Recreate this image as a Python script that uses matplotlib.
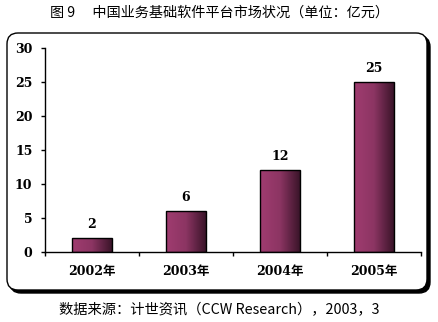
import numpy as np
import matplotlib.pyplot as plt
from matplotlib.patches import FancyBboxPatch
from matplotlib.colors import LinearSegmentedColormap

# 市场规模（亿元）
years = ['2002年', '2003年', '2004年', '2005年']
values = [2, 6, 12, 25]
yticks = [0, 5, 10, 15, 20, 25, 30]

title = '图 9\u3000 中国业务基础软件平台市场状况（单位：亿元）'
source = '数据来源：计世资讯（CCW Research），2003，3'

cjk = ['Noto Sans CJK SC', 'DejaVu Sans']
num = ['DejaVu Serif', 'Noto Sans CJK SC']

W, H = 439, 322
fig = plt.figure(figsize=(W / 100, H / 100), dpi=100)
fig.patch.set_facecolor('white')

# 圆角外框 + 阴影
def fx(px):
    return px / W

def fy(py):
    return 1 - py / H

shadow = FancyBboxPatch((fx(10), fy(293)), fx(420), 257 / H,
                        boxstyle='round,pad=0,rounding_size=0.025',
                        transform=fig.transFigure, facecolor='black',
                        edgecolor='black', lw=1, mutation_aspect=W / H, zorder=-2)
box = FancyBboxPatch((fx(7), fy(290)), fx(420), 257 / H,
                     boxstyle='round,pad=0,rounding_size=0.025',
                     transform=fig.transFigure, facecolor='white',
                     edgecolor='black', lw=1, mutation_aspect=W / H, zorder=-1)
fig.patches.extend([shadow, box])

ax = fig.add_axes([fx(45), fy(252), fx(421) - fx(45), (252 - 48) / H])
ax.set_facecolor('none')

x = np.arange(len(years))
bars = ax.bar(x, values, width=0.415, color='none', edgecolor='black', lw=1, zorder=3)

cmap = LinearSegmentedColormap.from_list('bar', ['#a03c70', '#8c3563', '#3a1429'])
grad = np.linspace(0, 1, 256).reshape(1, -1)
for b in bars:
    x0, w, h = b.get_x(), b.get_width(), b.get_height()
    im = ax.imshow(grad, cmap=cmap, extent=(x0, x0 + w, 0, h),
                   aspect='auto', origin='lower', zorder=2)
    im.set_clip_path(b)

for xi, v in zip(x, values):
    ax.annotate(str(v), (xi, v), xytext=(0, 5), textcoords='offset points',
                ha='center', va='bottom', fontsize=9, fontweight='bold', family=num)

ax.set_xlim(-0.5, len(years) - 0.5)
ax.set_ylim(0, 30)
ax.set_yticks(yticks)
ax.set_yticklabels([str(t) for t in yticks], fontsize=9, fontweight='bold', family=num)
ax.set_xticks(x)
ax.set_xticklabels(years, fontsize=9, fontweight='bold', family=num)
ax.tick_params(axis='x', length=0, pad=9)
ax.set_xticks(np.arange(-0.5, len(years)), minor=True)
ax.tick_params(axis='x', which='minor', length=3, direction='out', width=1)
ax.tick_params(axis='y', length=3, direction='out', width=1, pad=6)
for s in ['top', 'right']:
    ax.spines[s].set_visible(False)
for s in ['left', 'bottom']:
    ax.spines[s].set_linewidth(1)

fig.text(0.5, fy(13), title, ha='center', va='center', fontsize=10.2, family=cjk)
fig.text(0.5, fy(310), source, ha='center', va='center', fontsize=10.3, family=cjk)

fig.savefig('out.png', dpi=100)
